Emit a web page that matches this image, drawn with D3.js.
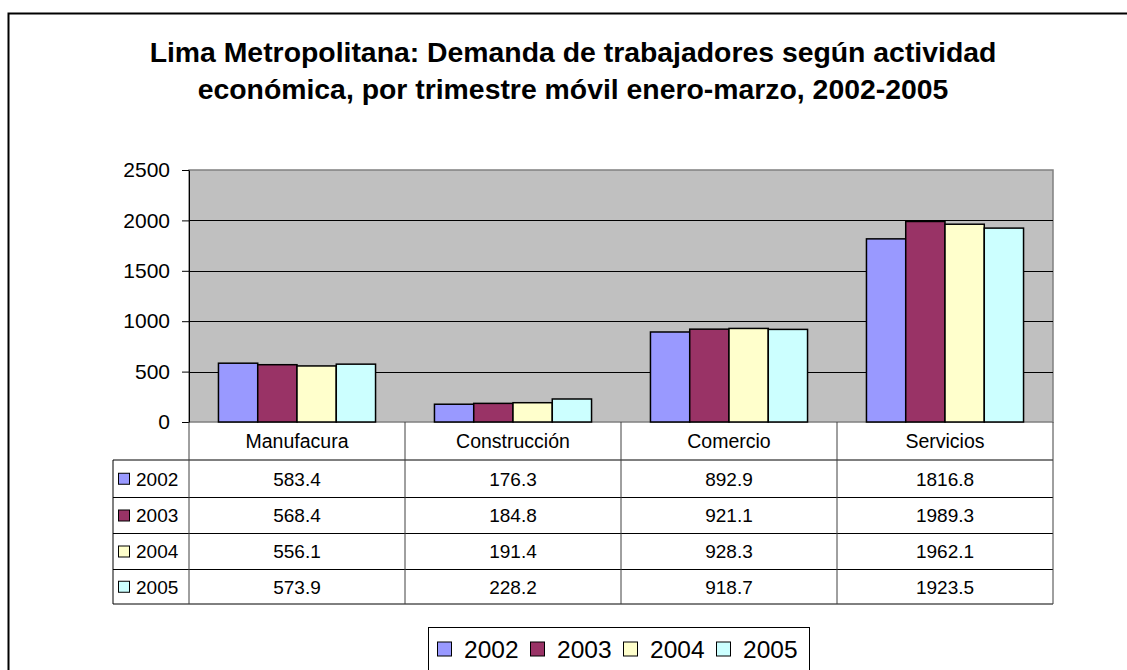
<!DOCTYPE html>
<html>
<head>
<meta charset="utf-8">
<script src="https://cdn.jsdelivr.net/npm/d3@7"></script>
<style>
  body { margin: 0; background: #fff; }
  svg { display: block; font-family: "Liberation Sans", Arial, sans-serif; }
</style>
</head>
<body>
<div id="chart"></div>
<script>
// Datos
const categorias = ["Manufacura", "Construcción", "Comercio", "Servicios"];
const anios = ["2002", "2003", "2004", "2005"];
const valores2002 = [583.4, 176.3, 892.9, 1816.8];
const valores2003 = [568.4, 184.8, 921.1, 1989.3];
const valores2004 = [556.1, 191.4, 928.3, 1962.1];
const valores2005 = [573.9, 228.2, 918.7, 1923.5];
const yTicks = [0, 500, 1000, 1500, 2000, 2500];
const colores = ["#9999ff", "#993366", "#ffffcc", "#ccffff"];
const titulo = [
  "Lima Metropolitana: Demanda de trabajadores según actividad",
  "económica, por trimestre móvil enero-marzo, 2002-2005"
];

const series = anios.map((a, i) => ({
  anio: a,
  color: colores[i],
  valores: [valores2002, valores2003, valores2004, valores2005][i]
}));

// Dimensiones
const W = 1127, H = 670;
const plot = { left: 189, right: 1053, top: 170, bottom: 422 };
const rowH = [38, 37.5, 36, 36, 34.5]; // cabecera + 4 filas
const tableLeft = 113;

const svg = d3.select("#chart").append("svg")
  .attr("width", W)
  .attr("height", H);

svg.append("rect").attr("width", W).attr("height", H).attr("fill", "#fff");

// Borde exterior
svg.append("path")
  .attr("d", `M8.5,${H} L8.5,13.5 L${W},13.5`)
  .attr("fill", "none")
  .attr("stroke", "#000")
  .attr("stroke-width", 2);

// Título
const t = svg.append("text")
  .attr("text-anchor", "middle")
  .attr("font-weight", "bold")
  .attr("font-size", 100);
t.text(titulo[0]);
const fs = 100 * 847 / t.node().getComputedTextLength();
t.text(null).attr("font-size", fs.toFixed(2));
t.selectAll("tspan")
  .data(titulo)
  .enter().append("tspan")
  .attr("x", 573)
  .attr("y", (d, i) => 62 + i * 36.5)
  .text(d => d);

// Escalas
const x0 = d3.scaleBand()
  .domain(categorias)
  .range([plot.left, plot.right]);

const x1 = d3.scaleBand()
  .domain(anios)
  .range([0, x0.bandwidth()])
  .paddingInner(0)
  .paddingOuter(0.75);

const y = d3.scaleLinear()
  .domain([0, 2500])
  .range([plot.bottom, plot.top]);

// Área de trazado
svg.append("rect")
  .attr("x", plot.left)
  .attr("y", plot.top)
  .attr("width", plot.right - plot.left)
  .attr("height", plot.bottom - plot.top)
  .attr("fill", "#c0c0c0")
  .attr("stroke", "#808080")
  .attr("stroke-width", 1.5);

// Líneas de división
svg.append("g")
  .selectAll("line")
  .data(yTicks.filter(d => d > 0 && d < 2500))
  .enter().append("line")
  .attr("x1", plot.left)
  .attr("x2", plot.right)
  .attr("y1", d => Math.round(y(d)) + 0.5)
  .attr("y2", d => Math.round(y(d)) + 0.5)
  .attr("stroke", "#000");

// Barras
const grupos = svg.append("g")
  .selectAll("g")
  .data(series)
  .enter().append("g")
  .attr("fill", d => d.color);

grupos.selectAll("rect")
  .data(s => s.valores.map((v, i) => ({ cat: categorias[i], anio: s.anio, v })))
  .enter().append("rect")
  .attr("x", d => x0(d.cat) + x1(d.anio))
  .attr("y", d => y(d.v))
  .attr("width", x1.bandwidth())
  .attr("height", d => y(0) - y(d.v))
  .attr("stroke", "#000")
  .attr("stroke-width", 1.5);

// Eje Y
const yAxis = svg.append("g")
  .attr("transform", `translate(${plot.left},0)`)
  .call(d3.axisLeft(y).tickValues(yTicks).tickFormat(d3.format("d"))
    .tickSize(7).tickSizeOuter(0).tickPadding(12));
yAxis.selectAll("text")
  .attr("font-size", 21)
  .attr("font-family", "'Liberation Sans', Arial, sans-serif")
  .attr("fill", "#000");
yAxis.selectAll("line").attr("stroke", "#000");
yAxis.select(".domain").attr("stroke", "#000");

// Tabla de datos
const rowY = [plot.bottom];
rowH.forEach(h => rowY.push(rowY[rowY.length - 1] + h));
const tableBottom = rowY[rowY.length - 1];
const tabla = svg.append("g");

// líneas horizontales
tabla.selectAll(".hline")
  .data(rowY.slice(1))
  .enter().append("line")
  .attr("x1", tableLeft)
  .attr("x2", plot.right)
  .attr("y1", d => d)
  .attr("y2", d => d)
  .attr("stroke", "#000");

// líneas verticales
const vx = categorias.map(c => x0(c)).concat([plot.right]);
tabla.selectAll(".vline")
  .data(vx)
  .enter().append("line")
  .attr("x1", d => d)
  .attr("x2", d => d)
  .attr("y1", plot.bottom)
  .attr("y2", tableBottom)
  .attr("stroke", "#404040");
tabla.append("line")
  .attr("x1", tableLeft).attr("x2", tableLeft)
  .attr("y1", rowY[1]).attr("y2", tableBottom)
  .attr("stroke", "#000");

// cabecera de categorías
tabla.selectAll(".cat")
  .data(categorias)
  .enter().append("text")
  .attr("x", d => x0(d) + x0.bandwidth() / 2)
  .attr("y", (rowY[0] + rowY[1]) / 2)
  .attr("dy", "0.36em")
  .attr("text-anchor", "middle")
  .attr("font-size", 19.5)
  .text(d => d);

// filas de valores
const filas = tabla.selectAll(".fila")
  .data(series)
  .enter().append("g")
  .attr("transform", (d, i) => `translate(0,${(rowY[i + 1] + rowY[i + 2]) / 2})`);

filas.append("rect")
  .attr("x", 118.5)
  .attr("y", -5.5)
  .attr("width", 11)
  .attr("height", 11)
  .attr("fill", d => d.color)
  .attr("stroke", "#000");

filas.append("text")
  .attr("x", 136)
  .attr("dy", "0.36em")
  .attr("font-size", 19)
  .text(d => d.anio);

filas.selectAll(".val")
  .data(d => d.valores.map((v, i) => ({ cat: categorias[i], v })))
  .enter().append("text")
  .attr("x", d => x0(d.cat) + x0.bandwidth() / 2)
  .attr("dy", "0.36em")
  .attr("text-anchor", "middle")
  .attr("font-size", 19)
  .text(d => d3.format(".1f")(d.v));

// Leyenda
const leyenda = svg.append("g");
leyenda.append("rect")
  .attr("x", 428.5)
  .attr("y", 627.5)
  .attr("width", 381)
  .attr("height", 60)
  .attr("fill", "#fff")
  .attr("stroke", "#000");

const items = leyenda.selectAll(".item")
  .data(series)
  .enter().append("g")
  .attr("transform", (d, i) => `translate(${437 + i * 93},649)`);

items.append("rect")
  .attr("x", 0.5)
  .attr("y", -7)
  .attr("width", 14)
  .attr("height", 14)
  .attr("fill", d => d.color)
  .attr("stroke", "#000");

items.append("text")
  .attr("x", 27)
  .attr("dy", "0.36em")
  .attr("font-size", 24.5)
  .text(d => d.anio);
</script>
</body>
</html>
